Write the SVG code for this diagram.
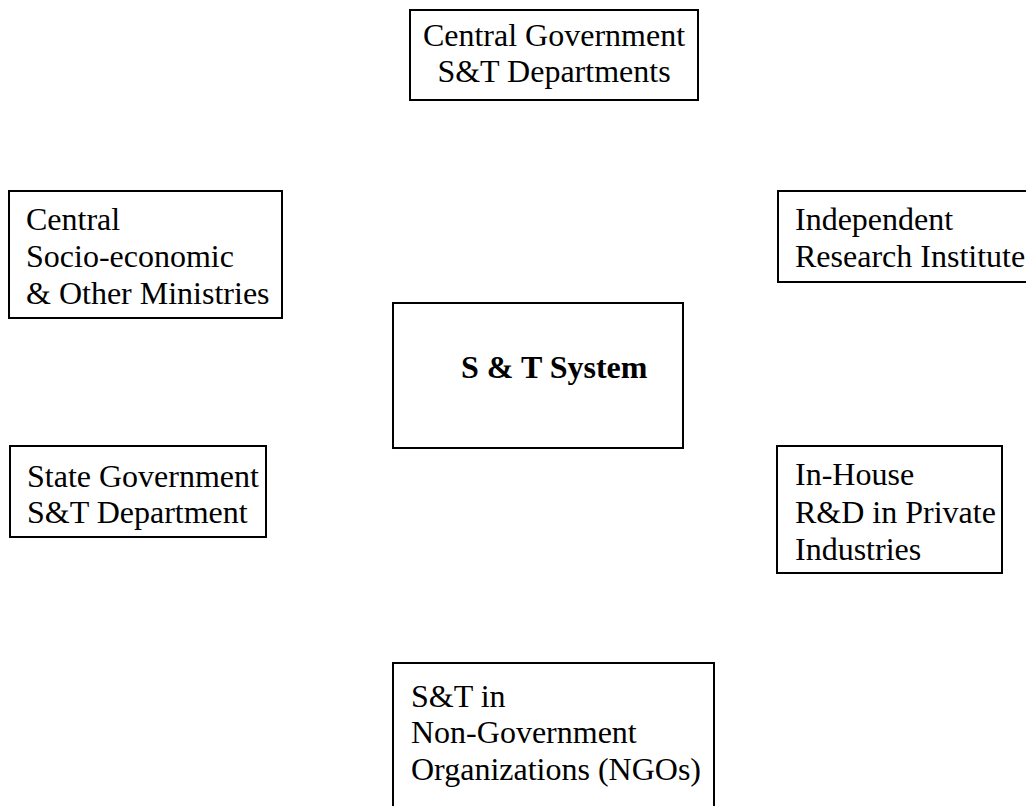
<svg xmlns="http://www.w3.org/2000/svg" width="1026" height="806" viewBox="0 0 1026 806">
<style>
rect.box{fill:#fff;stroke:#000;stroke-width:2}
text{font-family:"Liberation Serif","Times New Roman",serif;font-size:32px;fill:#000}
text.bold{font-weight:bold}
text.mid{text-anchor:middle}
</style>
<rect width="1026" height="806" fill="#fff"/>
<g id="connectors"></g>
<g id="central-govt">
<rect class="box" x="410" y="10" width="288" height="90"/>
<text class="mid" x="554" y="46">Central Government</text>
<text class="mid" x="554" y="82">S&amp;T Departments</text>
</g>
<g id="central-ministries">
<rect class="box" x="9" y="191" width="273" height="127"/>
<text x="26" y="230">Central</text>
<text x="26" y="267">Socio-economic</text>
<text x="26" y="304">&amp; Other Ministries</text>
</g>
<g id="independent">
<rect class="box" x="778" y="191" width="260" height="91"/>
<text x="795" y="230">Independent</text>
<text x="795" y="267">Research Institute</text>
</g>
<g id="system">
<rect class="box" x="393" y="303" width="290" height="145"/>
<text class="bold" x="461" y="378">S &amp; T System</text>
</g>
<g id="state-govt">
<rect class="box" x="10" y="446" width="256" height="91"/>
<text x="27" y="487">State Government</text>
<text x="27" y="523">S&amp;T Department</text>
</g>
<g id="inhouse">
<rect class="box" x="777" y="446" width="225" height="127"/>
<text x="795" y="485">In-House</text>
<text x="795" y="523">R&amp;D in Private</text>
<text x="795" y="560">Industries</text>
</g>
<g id="ngo">
<rect class="box" x="393" y="663" width="321" height="160"/>
<text x="411" y="707">S&amp;T in</text>
<text x="411" y="743">Non-Government</text>
<text x="411" y="780">Organizations (NGOs)</text>
</g>
</svg>
